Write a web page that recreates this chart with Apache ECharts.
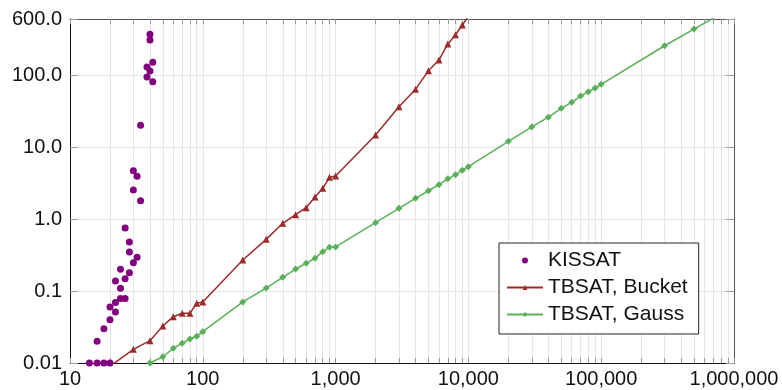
<!DOCTYPE html>
<html>
<head>
<meta charset="utf-8">
<script src="https://cdn.jsdelivr.net/npm/echarts@6/dist/echarts.min.js"></script>
<style>
  html, body { margin: 0; padding: 0; background: #fff; }
  #main { width: 782px; height: 390px; }
</style>
</head>
<body>
<div id="main"></div>
<script type="text/javascript">
    // KISSAT runtimes (scatter)
    var kissatX = [14, 16, 18, 20, 16, 18, 20, 20, 22, 22, 22, 24, 26, 24, 24, 26, 28, 30, 32, 28, 28, 26, 34, 30, 32, 30, 34, 42, 38, 40, 38, 42, 40, 40];
    var kissatY = [0.01, 0.01, 0.01, 0.01, 0.020, 0.030, 0.040, 0.060, 0.051, 0.069, 0.138, 0.079, 0.079, 0.109, 0.200, 0.148, 0.180, 0.247, 0.294, 0.348, 0.480, 0.75, 1.80, 2.53, 3.92, 4.69, 20.0, 80.7, 93.8, 113.6, 129, 150, 306, 367];

    // TBSAT, Bucket
    var bucketX = [20, 30, 40, 50, 60, 70, 80, 90, 100, 200, 300, 400, 500, 600, 700, 800, 900, 1000, 2000, 3000, 4000, 5000, 6000, 7000, 8000, 9000, 10000];
    var bucketY = [0.009, 0.0155, 0.0204, 0.0327, 0.044, 0.049, 0.049, 0.0675, 0.0703, 0.27, 0.522, 0.871, 1.148, 1.436, 2.02, 2.67, 3.79, 3.96, 14.7, 36.3, 63.3, 115, 161.6, 270, 363, 495, 650];

    // TBSAT, Gauss
    var gaussX = [40, 50, 60, 70, 80, 90, 100, 200, 300, 400, 500, 600, 700, 800, 900, 1000, 2000, 3000, 4000, 5000, 6000, 7000, 8000, 9000, 10000, 20000, 30000, 40000, 50000, 60000, 70000, 80000, 90000, 100000, 300000, 500000, 1000000];
    var gaussY = [0.01, 0.0122, 0.016, 0.0188, 0.0215, 0.0235, 0.0272, 0.0705, 0.110, 0.155, 0.202, 0.243, 0.284, 0.352, 0.405, 0.409, 0.889, 1.41, 1.94, 2.47, 3.0, 3.63, 4.12, 4.75, 5.33, 12.0, 19.0, 26.0, 34.5, 41.8, 51.1, 58.7, 65.9, 74.2, 255, 435, 900];

    // x tick positions (1..9 per decade)
    var xTicks = [];
    for (var d = 10; d < 1000000; d *= 10) {
        for (var m = 1; m < 10; m++) xTicks.push(d * m);
    }
    xTicks.push(1000000);

    function pairs(xs, ys) {
        return xs.map(function (x, i) { return [x, ys[i]]; });
    }

    var font = '"Liberation Sans", Arial, sans-serif';
    var gridColor = '#e6e6e6';

    var myChart = echarts.init(document.getElementById('main'));
    var option = {
        animation: false,
        grid: { left: 70, right: 48, top: 19, bottom: 27 },
        legend: {
            orient: 'vertical',
            left: 499,
            top: 243,
            padding: [7, 11, 9, 7],
            itemGap: 6,
            itemWidth: 36,
            itemHeight: 6,
            borderColor: '#222',
            borderWidth: 1,
            backgroundColor: '#fff',
            textStyle: { fontFamily: font, fontSize: 21, color: '#111' },
            data: ['KISSAT', 'TBSAT, Bucket', 'TBSAT, Gauss']
        },
        xAxis: [
            {
                type: 'log',
                min: 10,
                max: 1000000,
                position: 'bottom',
                axisLine: { lineStyle: { color: '#111', width: 1 } },
                axisTick: { inside: true, length: 5, customValues: xTicks, lineStyle: { color: '#999' } },
                axisLabel: {
                    fontFamily: font, fontSize: 20, color: '#111', margin: 6,
                    formatter: function (v) { return Math.round(v).toLocaleString('en-US'); }
                },
                splitLine: { show: true, lineStyle: { color: gridColor, width: 1 } }
            },
            {
                type: 'log',
                min: 10,
                max: 1000000,
                position: 'top',
                axisLine: { lineStyle: { color: '#555', width: 1 } },
                axisTick: { inside: true, length: 5, customValues: xTicks, lineStyle: { color: '#999' } },
                axisLabel: { show: false },
                splitLine: { show: false }
            }
        ],
        yAxis: [
            {
                type: 'log',
                min: 0.01,
                max: 600,
                position: 'left',
                axisLine: { show: true, lineStyle: { color: '#111', width: 1 } },
                axisTick: { show: true, inside: true, length: 8, lineStyle: { color: '#999' } },
                axisLabel: {
                    fontFamily: font, fontSize: 20, color: '#111', margin: 8,
                    formatter: function (v) { return v >= 1 ? v.toFixed(1) : String(v); }
                },
                splitLine: { show: true, lineStyle: { color: gridColor, width: 1 } }
            },
            {
                type: 'log',
                min: 0.01,
                max: 600,
                position: 'right',
                axisLine: { show: true, lineStyle: { color: '#555', width: 1 } },
                axisTick: { show: true, inside: true, length: 8, lineStyle: { color: '#999' } },
                axisLabel: { show: false },
                splitLine: { show: false }
            }
        ],
        series: [
            {
                name: 'KISSAT',
                type: 'scatter',
                symbol: 'circle',
                symbolSize: 7,
                itemStyle: { color: '#800080', opacity: 1 },
                data: pairs(kissatX, kissatY),
                z: 4
            },
            {
                name: 'TBSAT, Bucket',
                type: 'line',
                symbol: 'triangle',
                symbolSize: 7,
                showAllSymbol: true,
                clip: true,
                itemStyle: { color: '#9e2b2b' },
                lineStyle: { color: '#9e2b2b', width: 1.5 },
                data: pairs(bucketX, bucketY),
                z: 3
            },
            {
                name: 'TBSAT, Gauss',
                type: 'line',
                symbol: 'diamond',
                symbolSize: 7,
                showAllSymbol: true,
                clip: true,
                itemStyle: { color: '#58b058' },
                lineStyle: { color: '#58b058', width: 1.5 },
                data: pairs(gaussX, gaussY),
                z: 3
            }
        ]
    };

    myChart.setOption(option);
</script>
</body>
</html>
